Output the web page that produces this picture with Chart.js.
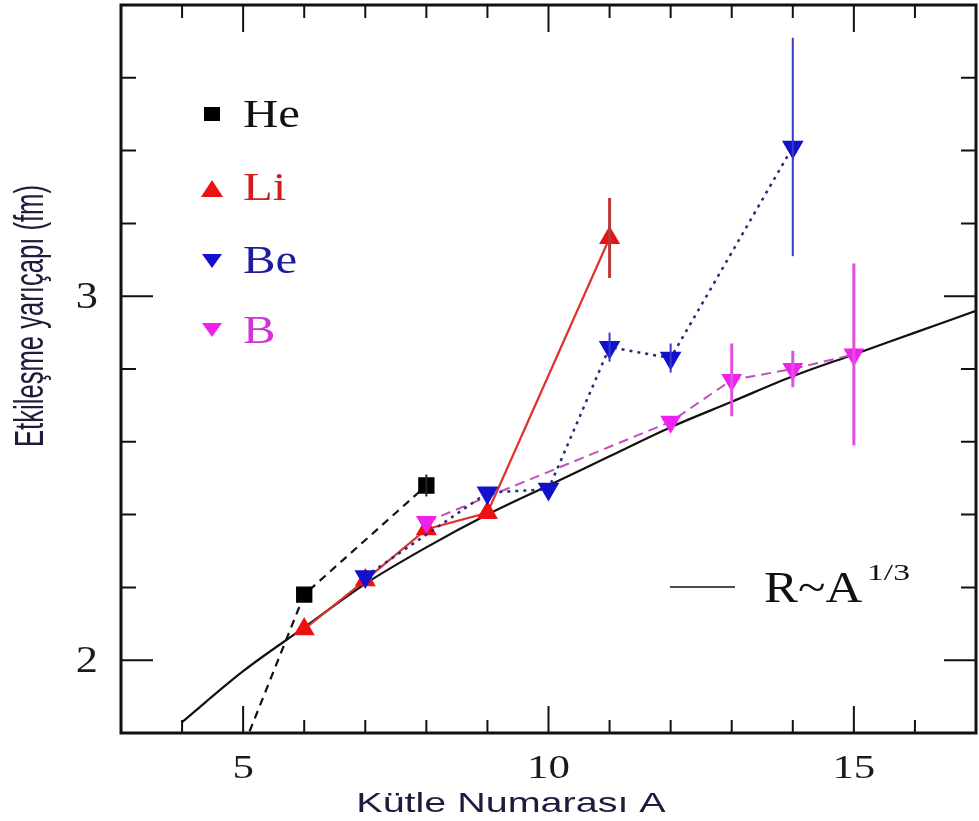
<!DOCTYPE html>
<html>
<head>
<meta charset="utf-8">
<script src="https://cdn.jsdelivr.net/npm/chart.js@4.4.1/dist/chart.umd.min.js"></script>
<style>
  html, body { margin: 0; padding: 0; background: #fff; }
  canvas { display: block; }
</style>
</head>
<body>
<canvas id="radiusChart" width="979" height="821"></canvas>
<script>
// Mass number A and interaction radius (fm)
const heA = [4, 6, 8];
const heR = [1.34, 2.18, 2.48];
const heErr = [0, 0, 0.03];

const liA = [6, 7, 8, 9, 11];
const liR = [2.085, 2.22, 2.36, 2.405, 3.16];
const liErr = [0, 0, 0, 0, 0.11];

const beA = [7, 9, 10, 11, 12, 14];
const beR = [2.23, 2.46, 2.47, 2.86, 2.83, 3.41];
const beErr = [0, 0, 0, 0.04, 0.04, 0.30];

const bA = [8, 12, 13, 14, 15];
const bR = [2.38, 2.655, 2.77, 2.80, 2.84];
const bErr = [0, 0, 0.10, 0.05, 0.25];

// R ~ A^(1/3) reference curve
const fitA = [4, 5, 6, 7, 8, 9, 10, 11, 12, 13, 14, 15, 16, 17];
const fitR = [1.83, 1.97, 2.09, 2.21, 2.31, 2.40, 2.48, 2.56, 2.64, 2.71, 2.78, 2.84, 2.90, 2.96];

// labelled ticks
const xTickLabels = [5, 10, 15];
const yTickLabels = [2, 3];

const xTitle = 'Kütle Numarası A';
const yTitle = 'Etkileşme yarıçapı (fm)';
const legendNames = ['He', 'Li', 'Be', 'B'];
const fitName = 'R~A';
const fitPower = '1/3';

function toPoints(xs, ys) {
    return xs.map((x, i) => ({ x: x, y: ys[i] }));
}

// draw text stretched horizontally (the original figure is widened)
function drawText(ctx, text, x, y, font, color, sx, align) {
    ctx.save();
    ctx.font = font;
    ctx.fillStyle = color;
    ctx.textBaseline = 'alphabetic';
    ctx.textAlign = align || 'left';
    ctx.translate(x, y);
    ctx.scale(sx, 1);
    ctx.fillText(text, 0, 0);
    ctx.restore();
}

const isWhole = v => Math.abs(v - Math.round(v)) < 1e-6;

const errorBars = [
    { xs: heA, ys: heR, err: heErr, color: '#222222', width: 2 },
    { xs: liA, ys: liR, err: liErr, color: '#b83a3a', width: 3 },
    { xs: beA, ys: beR, err: beErr, color: '#3a3ac8', width: 2 },
    { xs: bA, ys: bR, err: bErr, color: '#e050e0', width: 3 }
];

const framePlugin = {
    id: 'framePlugin',
    afterDatasetsDraw(chart) {
        const ctx = chart.ctx;
        const area = chart.chartArea;
        const xs = chart.scales.x;
        const ys = chart.scales.y;

        // error bars
        errorBars.forEach(s => {
            ctx.save();
            ctx.strokeStyle = s.color;
            ctx.lineWidth = s.width;
            s.err.forEach((e, i) => {
                if (!e) return;
                const px = xs.getPixelForValue(s.xs[i]);
                ctx.beginPath();
                ctx.moveTo(px, ys.getPixelForValue(s.ys[i] + e));
                ctx.lineTo(px, ys.getPixelForValue(s.ys[i] - e));
                ctx.stroke();
            });
            ctx.restore();
        });

        // inward ticks on all four sides
        ctx.save();
        ctx.strokeStyle = '#111';
        ctx.lineWidth = 2;
        xs.ticks.forEach(t => {
            if (t.value <= xs.min || t.value >= xs.max) return;
            const px = xs.getPixelForValue(t.value);
            const len = t.value % 5 === 0 ? 27 : 13;
            ctx.beginPath();
            ctx.moveTo(px, area.bottom); ctx.lineTo(px, area.bottom - len);
            ctx.moveTo(px, area.top); ctx.lineTo(px, area.top + len);
            ctx.stroke();
        });
        ys.ticks.forEach(t => {
            if (t.value <= ys.min + 1e-6 || t.value >= ys.max - 1e-6) return;
            const py = ys.getPixelForValue(t.value);
            const len = isWhole(t.value) ? 32 : 15;
            ctx.beginPath();
            ctx.moveTo(area.left, py); ctx.lineTo(area.left + len, py);
            ctx.moveTo(area.right, py); ctx.lineTo(area.right - len, py);
            ctx.stroke();
        });
        // frame
        ctx.lineWidth = 3;
        ctx.strokeRect(area.left, area.top, area.right - area.left, area.bottom - area.top);
        ctx.restore();

        // tick labels
        xTickLabels.forEach(v => {
            drawText(ctx, String(v), xs.getPixelForValue(v), 778, '33px "Liberation Serif"', '#1a1a1a', 1.3, 'center');
        });
        yTickLabels.forEach(v => {
            drawText(ctx, String(v), 98, ys.getPixelForValue(v) + 12, '37px "Liberation Serif"', '#1a1a1a', 1.2, 'right');
        });

        // axis titles
        drawText(ctx, xTitle, 511, 812, '28px "Liberation Sans"', '#1c1c3c', 1.41, 'center');
        ctx.save();
        ctx.font = '27px "Liberation Sans"';
        ctx.fillStyle = '#1c1c3c';
        ctx.textAlign = 'center';
        ctx.textBaseline = 'alphabetic';
        const lenScale = 262 / ctx.measureText(yTitle).width;
        ctx.translate(43, 316);
        ctx.scale(1.5, 1);
        ctx.rotate(-Math.PI / 2);
        ctx.scale(lenScale, 1);
        ctx.fillText(yTitle, 0, 0);
        ctx.restore();

        // legend
        const legendColors = ['#111111', '#d41c1c', '#1c1c9c', '#d433d4'];
        const markColors = ['#000000', '#ee1111', '#1212cc', '#ee22ee'];
        const baselines = [127, 200, 273, 343];
        const markY = [114, 189, 261, 330];
        ctx.save();
        markColors.forEach((c, i) => {
            ctx.fillStyle = c;
            ctx.beginPath();
            const cx = 212, cy = markY[i];
            if (i === 0) {
                ctx.rect(cx - 8, cy - 7, 16, 14);
            } else if (i === 1) {
                ctx.moveTo(cx, cy - 9); ctx.lineTo(cx + 11, cy + 8); ctx.lineTo(cx - 11, cy + 8);
            } else {
                ctx.moveTo(cx - 10, cy - 7); ctx.lineTo(cx + 10, cy - 7); ctx.lineTo(cx, cy + 7);
            }
            ctx.fill();
        });
        ctx.restore();
        legendNames.forEach((n, i) => {
            drawText(ctx, n, 243, baselines[i], '41px "Liberation Serif"', legendColors[i], 1.19);
        });

        // R~A^1/3 key
        ctx.save();
        ctx.strokeStyle = '#111';
        ctx.lineWidth = 1.5;
        ctx.beginPath();
        ctx.moveTo(670, 587); ctx.lineTo(735, 587);
        ctx.stroke();
        ctx.restore();
        drawText(ctx, fitName, 764, 602, '45px "Liberation Serif"', '#111', 1.13);
        drawText(ctx, fitPower, 867, 580, '24px "Liberation Serif"', '#111', 1.4);
    }
};

const ctx = document.getElementById('radiusChart').getContext('2d');

const radiusChart = new Chart(ctx, {
    type: 'line',
    data: {
        datasets: [
            {
                label: 'Be',
                data: toPoints(beA, beR),
                borderColor: '#2a2a78',
                borderWidth: 2.5,
                borderDash: [3, 5],
                pointStyle: 'triangle',
                pointRotation: 180,
                pointRadius: 10,
                pointBackgroundColor: '#1212cc',
                pointBorderColor: '#1212cc',
                order: 1
            },
            {
                label: 'B',
                data: toPoints(bA, bR),
                borderColor: '#c050c0',
                borderWidth: 2,
                borderDash: [10, 6],
                pointStyle: 'triangle',
                pointRotation: 180,
                pointRadius: 10,
                pointBackgroundColor: '#ee22ee',
                pointBorderColor: '#ee22ee',
                order: 2
            },
            {
                label: 'Li',
                data: toPoints(liA, liR),
                borderColor: '#e03030',
                borderWidth: 2.2,
                pointStyle: 'triangle',
                pointRadius: 10,
                pointBackgroundColor: '#ee1111',
                pointBorderColor: '#ee1111',
                order: 3
            },
            {
                label: 'He',
                data: toPoints(heA, heR),
                borderColor: '#111111',
                borderWidth: 2.2,
                borderDash: [8, 6],
                pointStyle: 'rect',
                pointRadius: [0, 10, 10],
                pointBackgroundColor: '#000',
                pointBorderColor: '#000',
                order: 4
            },
            {
                label: 'R~A^1/3',
                data: toPoints(fitA, fitR),
                borderColor: '#111111',
                borderWidth: 2.2,
                cubicInterpolationMode: 'monotone',
                pointRadius: 0,
                order: 5
            }
        ]
    },
    options: {
        responsive: false,
        animation: false,
        clip: 0,
        layout: { autoPadding: false, padding: { top: 5, right: 3, left: 0, bottom: 0 } },
        plugins: {
            legend: { display: false },
            tooltip: { enabled: false }
        },
        scales: {
            x: {
                type: 'linear',
                min: 3,
                max: 17,
                ticks: { stepSize: 1, display: false, callback: () => '' },
                grid: { display: false },
                border: { display: false },
                afterFit: scale => {
                    scale.height = 88;
                    scale.paddingLeft = 0;
                    scale.paddingRight = 0;
                }
            },
            y: {
                type: 'linear',
                min: 1.8,
                max: 3.8,
                ticks: { stepSize: 0.2, display: false, callback: () => '' },
                grid: { display: false },
                border: { display: false },
                afterFit: scale => {
                    scale.width = 121;
                    scale.paddingTop = 0;
                    scale.paddingBottom = 0;
                }
            }
        }
    },
    plugins: [framePlugin]
});
</script>
</body>
</html>
